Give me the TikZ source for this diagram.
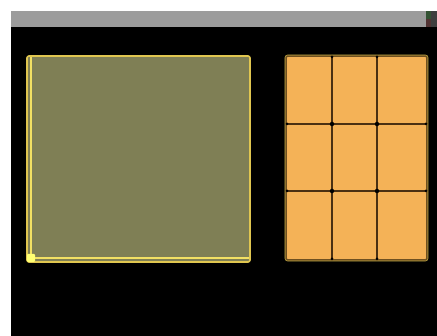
\documentclass[tikz,border=0pt]{standalone}
\usepackage{tikz}
\definecolor{olivefill}{HTML}{7F7F55}
\definecolor{ylw}{HTML}{E0C650}
\definecolor{ylwline}{HTML}{F2E064}
\definecolor{ylwsq}{HTML}{FFFF73}
\definecolor{orng}{HTML}{F4B257}
\definecolor{obord}{HTML}{6E5020}
\definecolor{ogrid}{HTML}{4A3012}
\definecolor{barg}{HTML}{9C9C9C}
\tikzset{
  panelL/.style={draw=ylw, line width=1.6pt, fill=olivefill, rounded corners=2pt},
  panelR/.style={draw=obord, line width=1.6pt, fill=orng, rounded corners=2pt},
  gridline/.style={draw=ogrid, line width=1.3pt},
  gdot/.style={circle, fill=black, inner sep=0pt, minimum size=3pt},
  yline/.style={draw=ylwline, line width=1.3pt}
}
\begin{document}
\begin{tikzpicture}[x=1pt,y=-1pt]
\useasboundingbox (0,0) rectangle (437,336);
\fill[white] (0,0) rectangle (437,336);
\fill[black] (11,27) rectangle (437,336);
\fill[barg] (11,11) rectangle (426,27);
\fill[black!60!barg] (426,11) rectangle (437,27);
\fill[green!15!black!80] (426,11) rectangle (431,19);
\fill[red!15!black!80] (426,19) rectangle (431,27);
% left panel
\path[panelL] (27,56) rectangle (250,262);
\coordinate (lt) at (31,57);
\coordinate (lc) at (31,258);
\coordinate (lr) at (249,258);
\draw[yline] (lt) -- (lc) -- (lr);
\node[fill=ylwsq, minimum size=8pt, inner sep=0pt, rounded corners=1pt] (sq) at (lc) {};
% right panel
\path[panelR] (286,56) rectangle (427,260);
\draw[ylw!80!obord, line width=0.6pt, rounded corners=2.5pt] (285,55) rectangle (428,261);
\foreach \x/\n in {332/a,377/b}{
  \coordinate (t\n) at (\x,57);
  \coordinate (b\n) at (\x,259);
  \draw[gridline] (t\n) -- (b\n);
  \node[gdot] at (t\n) {};
  \node[gdot] at (b\n) {};
}
\foreach \y/\n in {124/c,191/d}{
  \coordinate (l\n) at (287,\y);
  \coordinate (r\n) at (426,\y);
  \draw[gridline] (l\n) -- (r\n);
  \node[gdot] at (l\n) {};
  \node[gdot] at (r\n) {};
}
\foreach \x in {332,377}{\foreach \y in {124,191}{\node[gdot, minimum size=4.5pt] at (\x,\y) {};}}
\end{tikzpicture}
\end{document}
